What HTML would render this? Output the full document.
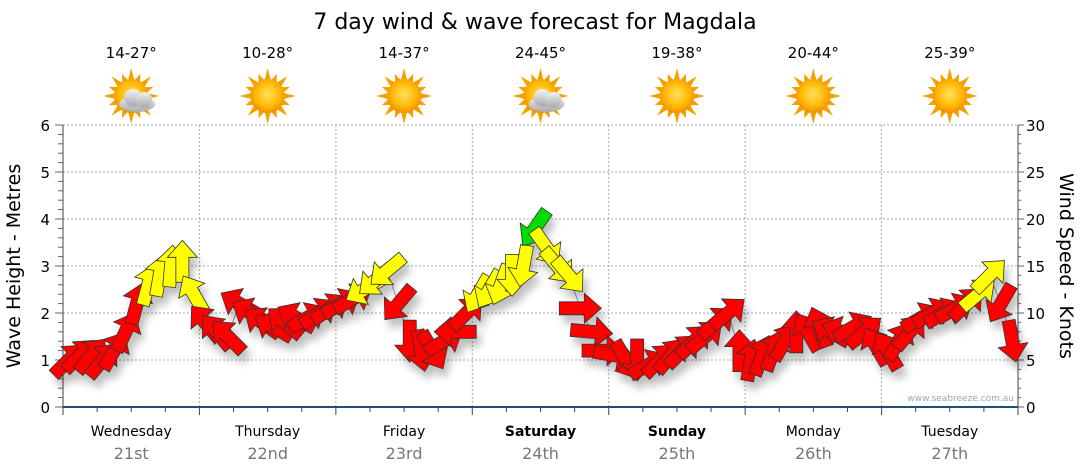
<!DOCTYPE html>
<html><head><meta charset="utf-8">
<style>
body{margin:0;background:#fff;width:1080px;height:475px;overflow:hidden;font-family:"DejaVu Sans","Liberation Sans",sans-serif}
svg{display:block}
</style></head><body>
<svg id="chart" width="1080" height="475" xmlns="http://www.w3.org/2000/svg">
<defs>
<filter id="sh" x="-50%" y="-50%" width="200%" height="200%"><feGaussianBlur in="SourceAlpha" stdDeviation="4"/><feOffset dx="4" dy="8"/><feComponentTransfer><feFuncA type="linear" slope="0.25"/></feComponentTransfer><feMerge><feMergeNode/><feMergeNode in="SourceGraphic"/></feMerge></filter>
<radialGradient id="sun" cx="50%" cy="45%" r="55%"><stop offset="0" stop-color="#ffe25a"/><stop offset="0.7" stop-color="#ffb400"/><stop offset="1" stop-color="#f08c00"/></radialGradient>
<linearGradient id="cloud" x1="0" y1="0" x2="0" y2="1"><stop offset="0" stop-color="#f2f2f2"/><stop offset="1" stop-color="#a9a9a9"/></linearGradient>
</defs>
<text x="535" y="29" text-anchor="middle" font-size="22">7 day wind &amp; wave forecast for Magdala</text>
<g id="grid"></g>
<g id="axes"></g>
<g id="icons"></g>
<polyline id="waveline" fill="none" stroke="#999" stroke-width="1"/>
<g id="arrows" filter="url(#sh)"></g>
<text x="1014" y="401" text-anchor="end" font-size="9" fill="#9aa8b8">www.seabreeze.com.au</text>
<text transform="translate(20,266) rotate(-90)" text-anchor="middle" font-size="19">Wave Height - Metres</text>
<text transform="translate(1060,266) rotate(90)" text-anchor="middle" font-size="19">Wind Speed - Knots</text>
</svg>
<script>
const days=["Wednesday","Thursday","Friday","Saturday","Sunday","Monday","Tuesday"];
const dates=["21st","22nd","23rd","24th","25th","26th","27th"];
const boldDays=[false,false,false,true,true,false,false];
const temps=["14-27°","10-28°","14-37°","24-45°","19-38°","20-44°","25-39°"];
const cloudy=[true,false,false,true,false,false,false];
const waveTicks=[0,1,2,3,4,5,6];
const windTicks=[0,5,10,15,20,25,30];
// wind speed (knots), 2-hourly
const windSpeed=[
5,5.5,5.5,5,6,8,11,13,14,15,15.5,12,
9,8,7.5,11,10,9,8.5,9,9.5,9.5,10,10.5,
11,11.5,12.5,13.5,14.5,11,7,6,6,7,8,10,
12,12.5,13,14,15,19,17,15,14,10.5,8,6,
5.5,5,5,4.5,5,5.5,6,7,7.5,9,10,6,
5,5.5,6,7,8,8,8.5,8,8,8.5,8,6.5,
6,7,8,9.5,10,10,10.5,11,12,14,11,7];
// arrow heading (degrees clockwise from up)
const windDir=[
45,45,40,40,30,25,15,15,10,5,0,-30,
-40,-40,-45,-60,-60,-55,-60,-50,-60,60,55,55,
60,60,-120,-130,-130,-140,180,170,150,60,-90,45,
-150,-150,-160,180,-170,-145,145,140,140,90,95,90,
100,150,180,60,45,40,45,45,50,50,50,0,
10,20,20,30,0,-30,-20,-60,-70,60,50,-30,
-30,30,40,60,60,60,60,45,50,45,-150,170];
const hourStep=2;

const X0=63,X1=1018,Y0=407,Y1=125;
const dayW=(X1-X0)/7;
const xT=h=>X0+h/24*dayW;
const yW=m=>Y0-(m/6)*(Y0-Y1);
const yK=k=>Y0-(k/30)*(Y0-Y1);
const NS="http://www.w3.org/2000/svg";
function mk(tag,attrs,parent){const e=document.createElementNS(NS,tag);for(const k in attrs)e.setAttribute(k,attrs[k]);parent.appendChild(e);return e;}
const grid=document.getElementById('grid'),axes=document.getElementById('axes'),icons=document.getElementById('icons'),arrows=document.getElementById('arrows');

waveTicks.forEach(v=>{
 if(v>0){const l=mk('line',{x1:X0,x2:X1,y1:yW(v),y2:yW(v),stroke:'#aaa','stroke-dasharray':'2,2'},grid);
 
 }
 const t=mk('text',{x:50,y:yW(v)+6,'text-anchor':'end','font-size':15},axes);t.textContent=v;
 
 
});
for(let m=0;m<=30;m++){const y=Y0-m/30*(Y0-Y1);mk('line',{x1:X0-(m%5==0?8:5),x2:X0,y1:y,y2:y,stroke:'#666'},axes);}
windTicks.forEach(v=>{
 const t=mk('text',{x:1026,y:yK(v)+6,'font-size':15},axes);t.textContent=v;
 
 
 mk('line',{x1:X1,x2:X1+6,y1:yK(v),y2:yK(v),stroke:'#666'},axes);
});
for(let m=0;m<=30;m++){const y=Y0-m/30*(Y0-Y1);mk('line',{x1:X1,x2:X1+3,y1:y,y2:y,stroke:'#666'},axes);}
mk('line',{x1:X0,x2:X0,y1:Y1,y2:Y0,stroke:'#444'},axes);
mk('line',{x1:X1,x2:X1,y1:Y1,y2:Y0,stroke:'#444'},axes);
for(let d=1;d<7;d++){const l=mk('line',{x1:X0+d*dayW,x2:X0+d*dayW,y1:Y1,y2:Y0,stroke:'#aaa','stroke-dasharray':'2,2'},grid);
 
 }
mk('line',{x1:X0,x2:X1,y1:Y0,y2:Y0,stroke:'#1a4f80','stroke-width':2},axes);
for(let i=0;i<=28;i++){const x=X0+i*dayW/4;mk('line',{x1:x,x2:x,y1:Y0,y2:Y0+(i%4==0?8:5),stroke:'#444'},axes);}

days.forEach((d,i)=>{
 const cx=X0+(i+0.5)*dayW;
 const t=mk('text',{x:cx,y:436,'text-anchor':'middle','font-size':14,'font-weight':boldDays[i]?'bold':'normal'},axes);t.textContent=d;
 
 
 const t2=mk('text',{x:cx,y:459,'text-anchor':'middle','font-size':16,fill:'#777'},axes);t2.textContent=dates[i];
 
 
 const t3=mk('text',{x:cx,y:58,'text-anchor':'middle','font-size':15},icons);t3.textContent=temps[i];
 
 
 const g=mk('g',{transform:`translate(${cx},96)`},icons);
 
 
 for(let r=0;r<16;r++){const a=r*22.5;const len=r%2?24:28;mk('polygon',{points:`-3,-16 3,-16 0,-${len}`,fill:'#f5a000',transform:`rotate(${a})`},g);}
 mk('circle',{r:17,fill:'url(#sun)'},g);
 if(cloudy[i]){
  const c=mk('g',{transform:'translate(6,4)'},g);
  mk('ellipse',{cx:0,cy:4,rx:18,ry:8,fill:'url(#cloud)'},c);
  mk('circle',{cx:-4,cy:-2,r:9,fill:'url(#cloud)'},c);
  mk('circle',{cx:7,cy:0,r:8,fill:'url(#cloud)'},c);
 }
});

const pts=[];
windSpeed.forEach((s,i)=>{
 const x=xT(i*hourStep+1),y=yK(s);pts.push(x+','+y);
 const col=s>=17.5?'#00dd00':(s>=12?'#ffff00':'#ff0000');
 const p=mk('polygon',{points:'0,-21 15,-4 6.5,-4 6.5,21 -6.5,21 -6.5,-4 -15,-4',fill:col,stroke:'#333','stroke-width':0.8,transform:`translate(${x},${y}) rotate(${windDir[i]})`},arrows);
 
 
});
document.getElementById('waveline').setAttribute('points',pts.join(' '));
</script>
</body></html>
